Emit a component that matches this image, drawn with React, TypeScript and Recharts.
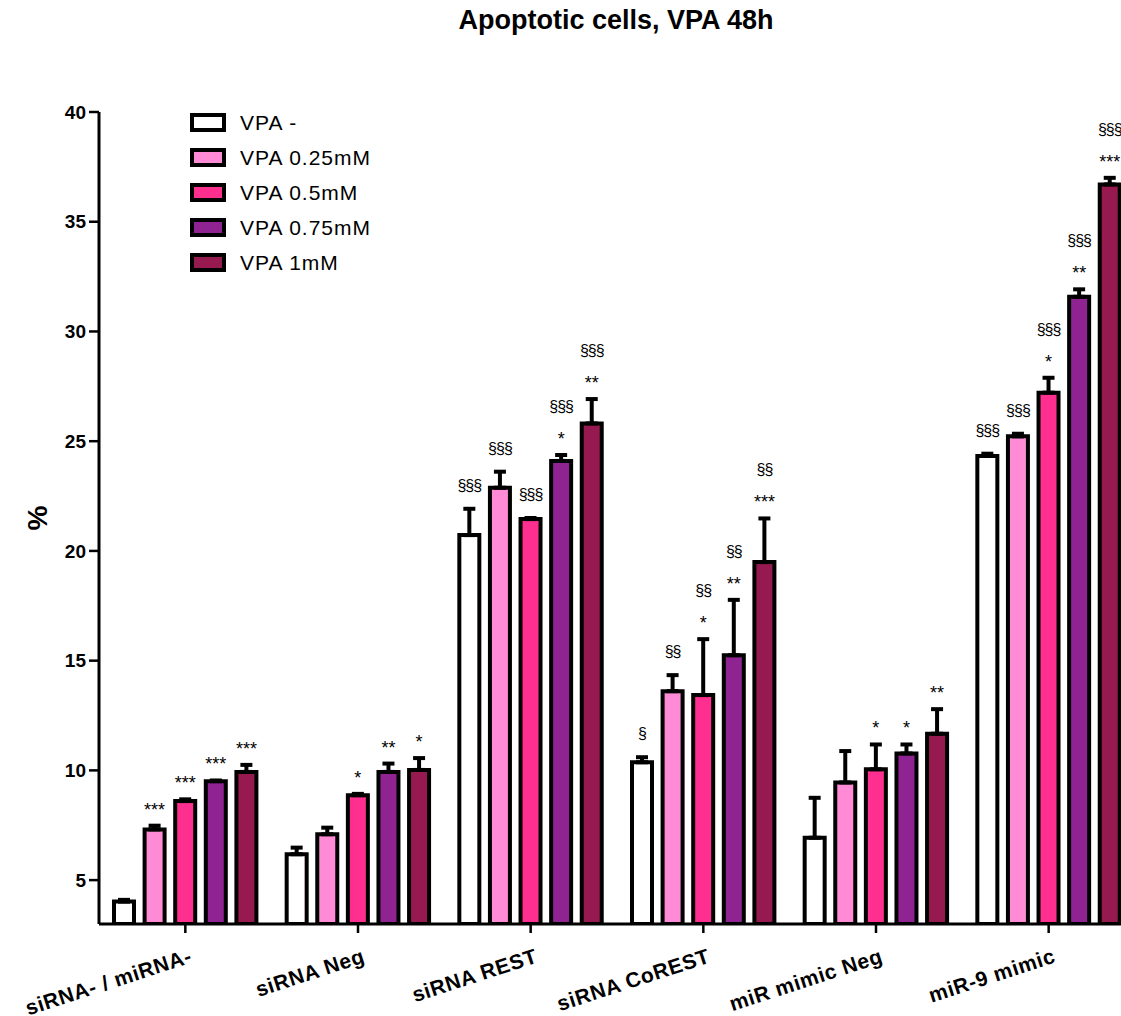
import { BarChart, Bar, XAxis, YAxis, ErrorBar, LabelList, Legend } from "recharts";

const categories = ["siRNA- / miRNA-", "siRNA Neg", "siRNA REST", "siRNA CoREST", "miR mimic Neg", "miR-9 mimic"];

const vpaNone = [4.02, 6.18, 20.72, 10.37, 6.93, 24.33];
const vpaNoneErr = [0.08, 0.3, 1.2, 0.23, 1.82, 0.1];
const vpa025 = [7.31, 7.09, 22.88, 13.61, 9.45, 25.22];
const vpa025Err = [0.17, 0.3, 0.73, 0.73, 1.43, 0.12];
const vpa05 = [8.6, 8.87, 21.45, 13.43, 10.05, 27.21];
const vpa05Err = [0.08, 0.06, 0.05, 2.55, 1.13, 0.68];
const vpa075 = [9.51, 9.93, 24.1, 15.25, 10.77, 31.58];
const vpa075Err = [0.03, 0.38, 0.27, 2.52, 0.41, 0.34];
const vpa1 = [9.93, 10.02, 25.81, 19.49, 11.67, 36.7];
const vpa1Err = [0.32, 0.54, 1.11, 1.99, 1.12, 0.3];

// significance marks (* vs VPA -, § vs siRNA-/miRNA-)
const starsNone = ["", "", "", "", "", ""];
const stars025 = ["***", "", "", "", "", ""];
const stars05 = ["***", "*", "", "*", "*", "*"];
const stars075 = ["***", "**", "*", "**", "*", "**"];
const stars1 = ["***", "*", "**", "***", "**", "***"];
const sectNone = ["", "", "§§§", "§", "", "§§§"];
const sect025 = ["", "", "§§§", "§§", "", "§§§"];
const sect05 = ["", "", "§§§", "§§", "", "§§§"];
const sect075 = ["", "", "§§§", "§§", "", "§§§"];
const sect1 = ["", "", "§§§", "§§", "", "§§§"];

const yTicks = [5, 10, 15, 20, 25, 30, 35, 40];
const Y_MIN = 3;
const Y_MAX = 40;

const FONT = "'Liberation Sans', Arial, Helvetica, sans-serif";
const W = 1136;
const H = 1016;
const M_TOP = 112;
const X_H = 92;
const PX_PER_UNIT = (H - M_TOP - X_H) / (Y_MAX - Y_MIN);

const series = [
  { key: "none", name: "VPA -", color: "#ffffff", vals: vpaNone, err: vpaNoneErr, stars: starsNone, sect: sectNone },
  { key: "v025", name: "VPA 0.25mM", color: "#ff8bd6", vals: vpa025, err: vpa025Err, stars: stars025, sect: sect025 },
  { key: "v05", name: "VPA 0.5mM", color: "#ff2f8f", vals: vpa05, err: vpa05Err, stars: stars05, sect: sect05 },
  { key: "v075", name: "VPA 0.75mM", color: "#8f2391", vals: vpa075, err: vpa075Err, stars: stars075, sect: sect075 },
  { key: "v1", name: "VPA 1mM", color: "#961a4f", vals: vpa1, err: vpa1Err, stars: stars1, sect: sect1 },
];

const data = categories.map((name, i) => {
  const row: Record<string, any> = { name };
  series.forEach((s) => {
    row[s.key] = s.vals[i];
    row[s.key + "Err"] = [0, s.err[i]];
  });
  return row;
});

function makeMarks(s: (typeof series)[number]) {
  return (props: any) => {
    const { x, y, width, index } = props;
    const st = s.stars[index];
    const sc = s.sect[index];
    if (!st && !sc) return null;
    const cx = x + width / 2;
    const capY = y - s.err[index] * PX_PER_UNIT;
    return (
      <g>
        {st && (
          <text x={cx} y={capY - 10} textAnchor="middle" fontSize={18} fontFamily={FONT} fill="#000">
            {st}
          </text>
        )}
        {sc && (
          <text
            x={cx}
            y={st ? capY - 43 : capY - 18}
            textAnchor="middle"
            fontSize={16}
            letterSpacing={-1}
            fontFamily={FONT}
            fill="#000"
          >
            {sc}
          </text>
        )}
      </g>
    );
  };
}

function XTick(props: any) {
  const { x, y, payload } = props;
  const ax = x + 8;
  const ay = y + 27;
  return (
    <text
      x={ax}
      y={ay}
      transform={`rotate(-18 ${ax} ${ay})`}
      textAnchor="end"
      fontSize={21}
      fontWeight="bold"
      letterSpacing={0.6}
      fontFamily={FONT}
      fill="#000"
    >
      {payload.value}
    </text>
  );
}

function LegendBox() {
  return (
    <div style={{ fontFamily: FONT }}>
      {series.map((s) => (
        <div key={s.key} style={{ display: "flex", alignItems: "center", height: 35 }}>
          <div
            style={{
              width: 28,
              height: 11,
              border: "4px solid #000",
              background: s.color,
            }}
          />
          <span style={{ marginLeft: 14, fontSize: 21, letterSpacing: 1, color: "#000" }}>{s.name}</span>
        </div>
      ))}
    </div>
  );
}

export default function App() {
  return (
    <div
      style={{
        position: "absolute",
        left: 0,
        top: 0,
        width: 1121,
        height: 1016,
        overflow: "hidden",
        background: "#fff",
      }}
    >
      <div
        style={{
          position: "absolute",
          left: 0,
          width: 1232,
          top: 5,
          textAlign: "center",
          fontFamily: FONT,
          fontWeight: "bold",
          fontSize: 27,
          color: "#000",
        }}
      >
        Apoptotic cells, VPA 48h
      </div>
      <BarChart
        width={W}
        height={H}
        data={data}
        margin={{ top: M_TOP, right: 1, left: 0, bottom: 0 }}
        barGap={10.6}
      >
        <XAxis
          dataKey="name"
          height={X_H}
          interval={0}
          axisLine={{ stroke: "#000", strokeWidth: 3 }}
          tickLine={{ stroke: "#000", strokeWidth: 2.5 }}
          tickSize={9}
          tick={<XTick />}
        />
        <YAxis
          width={99}
          domain={[Y_MIN, Y_MAX]}
          ticks={yTicks}
          allowDataOverflow
          axisLine={{ stroke: "#000", strokeWidth: 3 }}
          tickLine={{ stroke: "#000", strokeWidth: 2.5 }}
          tickSize={10}
          tickMargin={3}
          tick={{ fontSize: 19, fontWeight: "bold", fill: "#000", fontFamily: FONT }}
          label={{
            value: "%",
            angle: -90,
            position: "center",
            dx: -12,
            style: { fontSize: 28, fontWeight: "bold", fill: "#000", fontFamily: FONT },
          }}
        />
        <Legend
          layout="horizontal"
          verticalAlign="middle"
          align="center"
          wrapperStyle={{ position: "absolute", left: 190, top: 105, width: 260, height: 180 }}
          content={() => <LegendBox />}
        />
        {series.map((s) => (
          <Bar
            key={s.key}
            dataKey={s.key}
            name={s.name}
            fill={s.color}
            stroke="#000"
            strokeWidth={4}
            barSize={20}
            isAnimationActive={false}
          >
            <ErrorBar dataKey={s.key + "Err"} width={6} stroke="#000" strokeWidth={4} direction="y" />
            <LabelList dataKey={s.key} content={makeMarks(s)} />
          </Bar>
        ))}
      </BarChart>
    </div>
  );
}
